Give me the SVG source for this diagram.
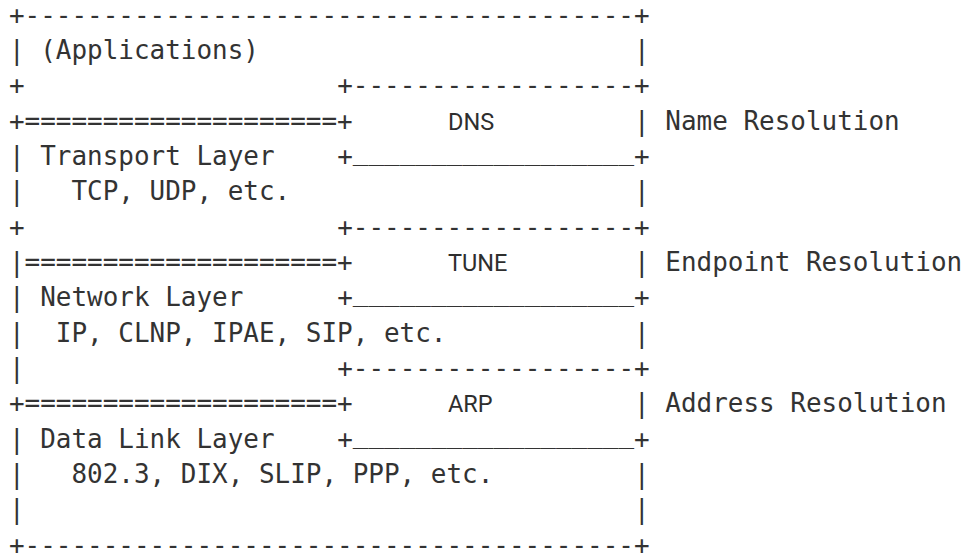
<svg xmlns="http://www.w3.org/2000/svg" width="966" height="559" viewBox="0 0 966 559" xml:space="preserve">
<style>
  .m { font-family: "DejaVu Sans Mono", "Liberation Mono", monospace; font-size: 25.96px; fill: #333333; white-space: pre; }
  .p { font-family: Roboto, "Liberation Sans", sans-serif; font-size: 23.5px; fill: #2e2e2e; }
</style>
<rect width="966" height="559" fill="#ffffff"/>
<g id="diagram" transform="translate(0,-2.5)">
  <text class="m" x="8.9" y="26">+---------------------------------------+</text>

  <text class="m" x="8.9" y="61.35">| (Applications)</text>
  <text class="m" x="634.1" y="61.35">|</text>

  <text class="m" x="8.9" y="96.7">+</text>
  <text class="m" x="337.13" y="96.7">+------------------+</text>

  <text class="m" x="8.9" y="132.05">+====================+</text>
  <text class="p" x="448" y="132.05">DNS</text>
  <text class="m" x="634.1" y="132.05">| Name Resolution</text>

  <text class="m" x="8.9" y="167.4">| Transport Layer</text>
  <text class="m" x="337.13" y="167.4">+</text>
  <text class="m" x="352.76" y="162.4">__________________</text>
  <text class="m" x="634.1" y="167.4">+</text>

  <text class="m" x="8.9" y="202.75">|   TCP, UDP, etc.</text>
  <text class="m" x="634.1" y="202.75">|</text>

  <text class="m" x="8.9" y="238.1">+</text>
  <text class="m" x="337.13" y="238.1">+------------------+</text>

  <text class="m" x="8.9" y="273.45">|====================+</text>
  <text class="p" x="448" y="273.45">TUNE</text>
  <text class="m" x="634.1" y="273.45">| Endpoint Resolution</text>

  <text class="m" x="8.9" y="308.8">| Network Layer</text>
  <text class="m" x="337.13" y="308.8">+</text>
  <text class="m" x="352.76" y="303.8">__________________</text>
  <text class="m" x="634.1" y="308.8">+</text>

  <text class="m" x="8.9" y="344.15">|  IP, CLNP, IPAE, SIP, etc.</text>
  <text class="m" x="634.1" y="344.15">|</text>

  <text class="m" x="8.9" y="379.5">|</text>
  <text class="m" x="337.13" y="379.5">+------------------+</text>

  <text class="m" x="8.9" y="414.85">+====================+</text>
  <text class="p" x="448" y="414.85">ARP</text>
  <text class="m" x="634.1" y="414.85">| Address Resolution</text>

  <text class="m" x="8.9" y="450.2">| Data Link Layer</text>
  <text class="m" x="337.13" y="450.2">+</text>
  <text class="m" x="352.76" y="445.2">__________________</text>
  <text class="m" x="634.1" y="450.2">+</text>

  <text class="m" x="8.9" y="485.55">|   802.3, DIX, SLIP, PPP, etc.</text>
  <text class="m" x="634.1" y="485.55">|</text>

  <text class="m" x="8.9" y="520.9">|</text>
  <text class="m" x="634.1" y="520.9">|</text>

  <text class="m" x="8.9" y="556.25">+---------------------------------------+</text>
</g>
</svg>
